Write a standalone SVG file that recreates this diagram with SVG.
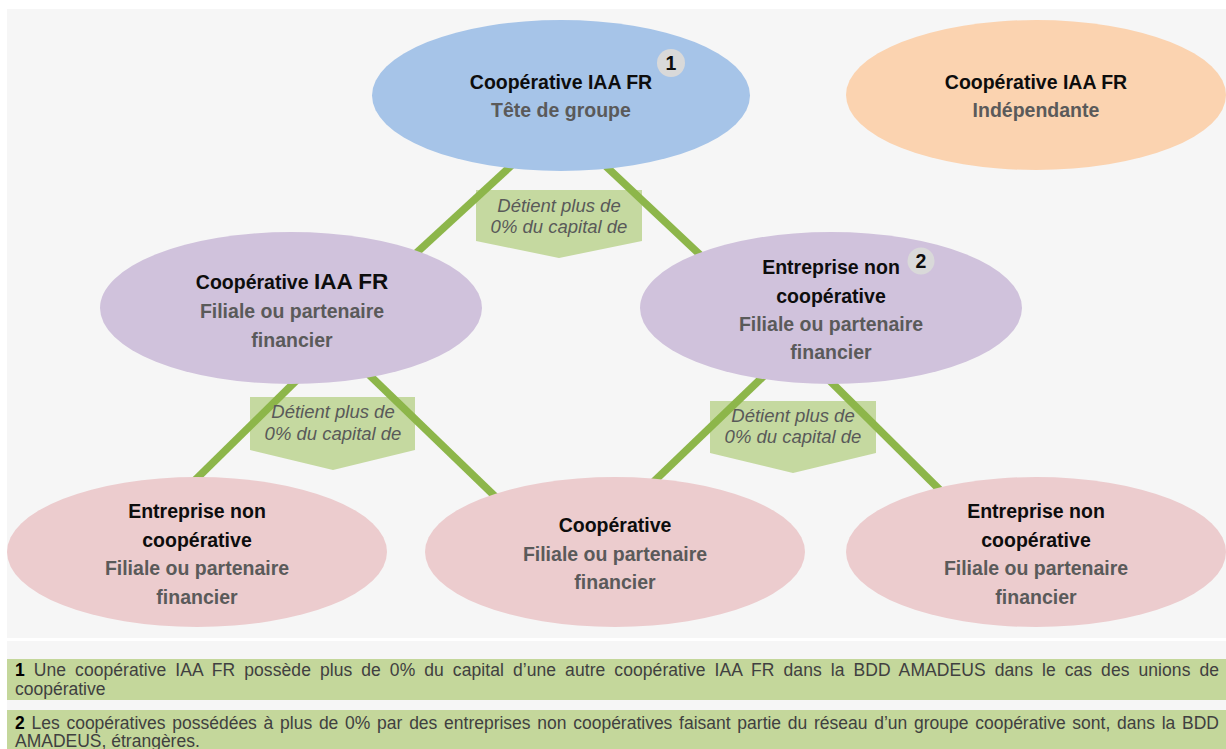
<svg xmlns="http://www.w3.org/2000/svg" width="1226" height="749" viewBox="0 0 1226 749">
<style>
  .t { font-family: "Liberation Sans", Arial, sans-serif; font-weight: bold; font-size: 19.5px; text-anchor: middle; }
  .k { fill: #0d0d0d; }
  .g { fill: #5a5a5a; }
  .call { fill: #c5d9a0; }
  .ct { font-family: "Liberation Sans", Arial, sans-serif; font-style: italic; font-size: 18.5px; fill: #595959; text-anchor: middle; }
  .ln { stroke: #8db64a; stroke-width: 7.5; fill: none; }
  .badge { fill: #d9d9d9; }
  .fn { font-family: "Liberation Sans", Arial, sans-serif; font-size: 17.5px; fill: #404040; }
  .fnb { font-weight: bold; fill: #000; }
  .fbox { fill: #c4d79b; }
</style>
<rect x="0" y="0" width="1226" height="749" fill="#ffffff"/>
<rect x="7" y="9" width="1219" height="629" fill="#f6f6f6"/>
<rect x="7" y="641" width="1219" height="108" fill="#f6f6f6"/>

<g id="callouts">
  <polygon class="call" points="476,190 642,190 642,241 559,258 476,241"/>
  <polygon class="call" points="250,397 415,397 415,450 333,470 250,450"/>
  <polygon class="call" points="710,401 876,401 876,453 793,473 710,453"/>
</g>

<g id="connectors">
  <line class="ln" x1="400" y1="268" x2="525" y2="153"/>
  <line class="ln" x1="595" y1="156" x2="712" y2="266"/>
  <line class="ln" x1="185" y1="490" x2="305" y2="372"/>
  <line class="ln" x1="360" y1="366" x2="505" y2="506"/>
  <line class="ln" x1="770" y1="370" x2="645" y2="490"/>
  <line class="ln" x1="822" y1="373" x2="948" y2="498"/>
</g>

<g id="callout-labels">
  <text class="ct" x="559" y="212">Détient plus de</text>
  <text class="ct" x="559" y="233">0% du capital de</text>
  <text class="ct" x="333" y="418">Détient plus de</text>
  <text class="ct" x="333" y="440">0% du capital de</text>
  <text class="ct" x="793" y="422">Détient plus de</text>
  <text class="ct" x="793" y="443">0% du capital de</text>
</g>

<g id="node-tete">
  <ellipse cx="561" cy="95.5" rx="189" ry="75.5" fill="#a6c4e8"/>
  <text class="t k" x="561" y="89">Coopérative IAA FR</text>
  <text class="t g" x="561" y="117">Tête de groupe</text>
  <circle class="badge" cx="671" cy="63" r="14"/>
  <text class="t k" x="671" y="70" font-size="20">1</text>
</g>

<g id="node-independante">
  <ellipse cx="1036" cy="95" rx="190" ry="75" fill="#fbd3b0"/>
  <text class="t k" x="1036" y="89">Coopérative IAA FR</text>
  <text class="t g" x="1036" y="117">Indépendante</text>
</g>

<g id="node-filiale-coop">
  <ellipse cx="291" cy="308" rx="191" ry="76" fill="#d0c2dc"/>
  <text class="t k" x="292" y="289">Coopérative <tspan font-size="22.5">IAA FR</tspan></text>
  <text class="t g" x="292" y="318">Filiale ou partenaire</text>
  <text class="t g" x="292" y="347">financier</text>
</g>

<g id="node-filiale-ent">
  <ellipse cx="831" cy="308" rx="191" ry="76" fill="#d0c2dc"/>
  <text class="t k" x="831" y="274">Entreprise non</text>
  <text class="t k" x="831" y="303">coopérative</text>
  <text class="t g" x="831" y="331">Filiale ou partenaire</text>
  <text class="t g" x="831" y="359">financier</text>
  <circle class="badge" cx="921" cy="261" r="13.5"/>
  <text class="t k" x="921" y="268" font-size="20">2</text>
</g>

<g id="node-bas-gauche">
  <ellipse cx="197" cy="552" rx="190" ry="75" fill="#ecccce"/>
  <text class="t k" x="197" y="518">Entreprise non</text>
  <text class="t k" x="197" y="547">coopérative</text>
  <text class="t g" x="197" y="575">Filiale ou partenaire</text>
  <text class="t g" x="197" y="604">financier</text>
</g>

<g id="node-bas-milieu">
  <ellipse cx="615" cy="552" rx="190" ry="75" fill="#ecccce"/>
  <text class="t k" x="615" y="532">Coopérative</text>
  <text class="t g" x="615" y="561">Filiale ou partenaire</text>
  <text class="t g" x="615" y="589">financier</text>
</g>

<g id="node-bas-droite">
  <ellipse cx="1036" cy="552" rx="190" ry="75" fill="#ecccce"/>
  <text class="t k" x="1036" y="518">Entreprise non</text>
  <text class="t k" x="1036" y="547">coopérative</text>
  <text class="t g" x="1036" y="575">Filiale ou partenaire</text>
  <text class="t g" x="1036" y="604">financier</text>
</g>

<g id="footnotes">
  <rect class="fbox" x="7" y="659" width="1219" height="41"/>
  <rect class="fbox" x="7" y="710" width="1219" height="39"/>
  <text class="fn" x="15" y="676" word-spacing="4" textLength="1204" lengthAdjust="spacing"><tspan class="fnb">1</tspan> Une coopérative IAA FR possède plus de 0% du capital d’une autre coopérative IAA FR dans la BDD AMADEUS dans le cas des unions de</text>
  <text class="fn" x="15" y="694.5">coopérative</text>
  <text class="fn" x="15" y="729" word-spacing="1.9" textLength="1204" lengthAdjust="spacing"><tspan class="fnb">2</tspan> Les coopératives possédées à plus de 0% par des entreprises non coopératives faisant partie du réseau d’un groupe coopérative sont, dans la BDD</text>
  <text class="fn" x="15" y="747">AMADEUS, étrangères.</text>
</g>
</svg>
